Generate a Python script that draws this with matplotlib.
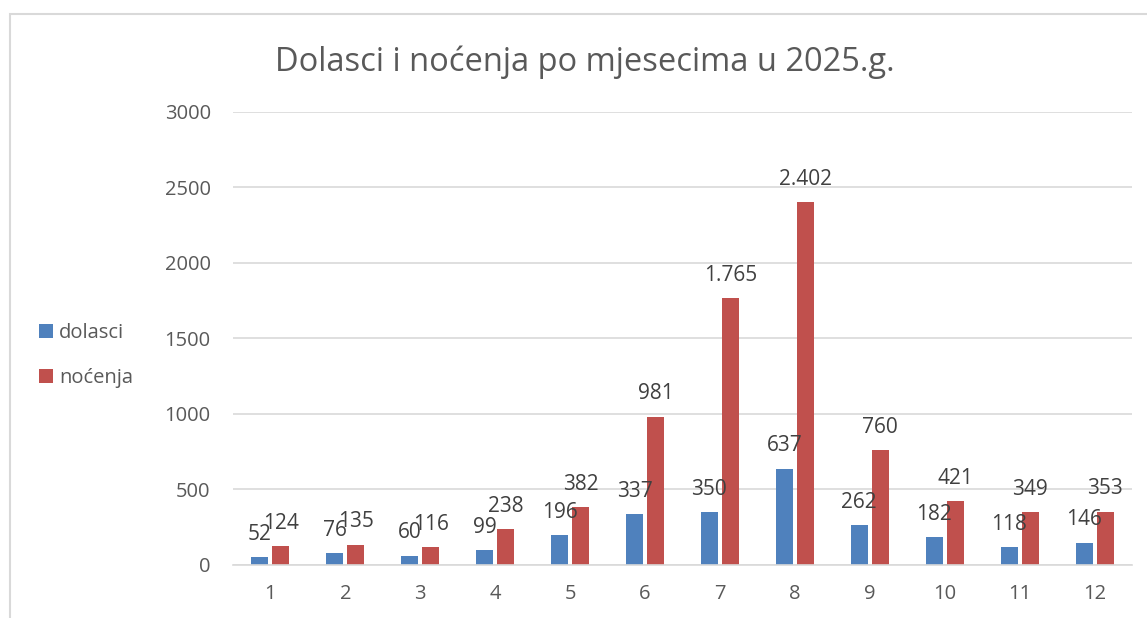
import numpy as np
import matplotlib
matplotlib.use("Agg")
import matplotlib.pyplot as plt
from matplotlib.patches import Rectangle

# podaci
mjeseci = ["1", "2", "3", "4", "5", "6", "7", "8", "9", "10", "11", "12"]
dolasci = [52, 76, 60, 99, 196, 337, 350, 637, 262, 182, 118, 146]
nocenja = [124, 135, 116, 238, 382, 981, 1765, 2402, 760, 421, 349, 353]

plava = "#4F81BD"
crvena = "#C0504D"
siva = "#595959"

plt.rcParams['font.family'] = ['Open Sans', 'DejaVu Sans']

fig = plt.figure(figsize=(11.47, 6.18), dpi=100)
ax = fig.add_axes([0.2031, 0.0858, 0.7838, 0.7330])

x = np.arange(len(mjeseci))
w = 0.227
b1 = ax.bar(x - 0.14, dolasci, w, color=plava, label="dolasci")
b2 = ax.bar(x + 0.14, nocenja, w, color=crvena, label="noćenja")

def fmt(v):
    return f"{v:,}".replace(",", ".")  # tocka za tisuce

for bars, vals in [(b1, dolasci), (b2, nocenja)]:
    for r, v in zip(bars, vals):
        ax.annotate(fmt(v), (r.get_x() + r.get_width() / 2, r.get_height()),
                    xytext=(0, 9), textcoords="offset points",
                    ha="center", va="bottom", fontsize=15, color="#404040")

ax.set_ylim(0, 3000)
ax.set_xlim(-0.5, 11.5)
ax.set_yticks(range(0, 3001, 500))
ax.set_xticks(x)
ax.set_xticklabels(mjeseci)
ax.yaxis.grid(True, color="#D9D9D9", linewidth=1.2)
ax.set_axisbelow(True)
for s in ["top", "right", "left"]:
    ax.spines[s].set_visible(False)
ax.spines["bottom"].set_color("#D9D9D9")
ax.spines["bottom"].set_linewidth(1.2)
ax.tick_params(axis="both", length=0, labelsize=14.5, colors=siva)
ax.tick_params(axis="y", pad=16)
ax.tick_params(axis="x", pad=14)

fig.text(0.51, 0.9, "Dolasci i noćenja po mjesecima u 2025.g.",
         ha="center", va="center", fontsize=23.5, color=siva)

fig.legend(handles=[b1, b2], loc="center left", bbox_to_anchor=(0.018, 0.425),
           frameon=False, fontsize=14.5, labelcolor=siva,
           handlelength=0.7, handleheight=0.7, handletextpad=0.3,
           labelspacing=1.25)

# okvir grafikona
fig.patches.append(Rectangle((10, -10), 1200, 614, transform=None,
                             fill=False, edgecolor="#D9D9D9", linewidth=1.5))

fig.savefig("out.png", dpi=100)
